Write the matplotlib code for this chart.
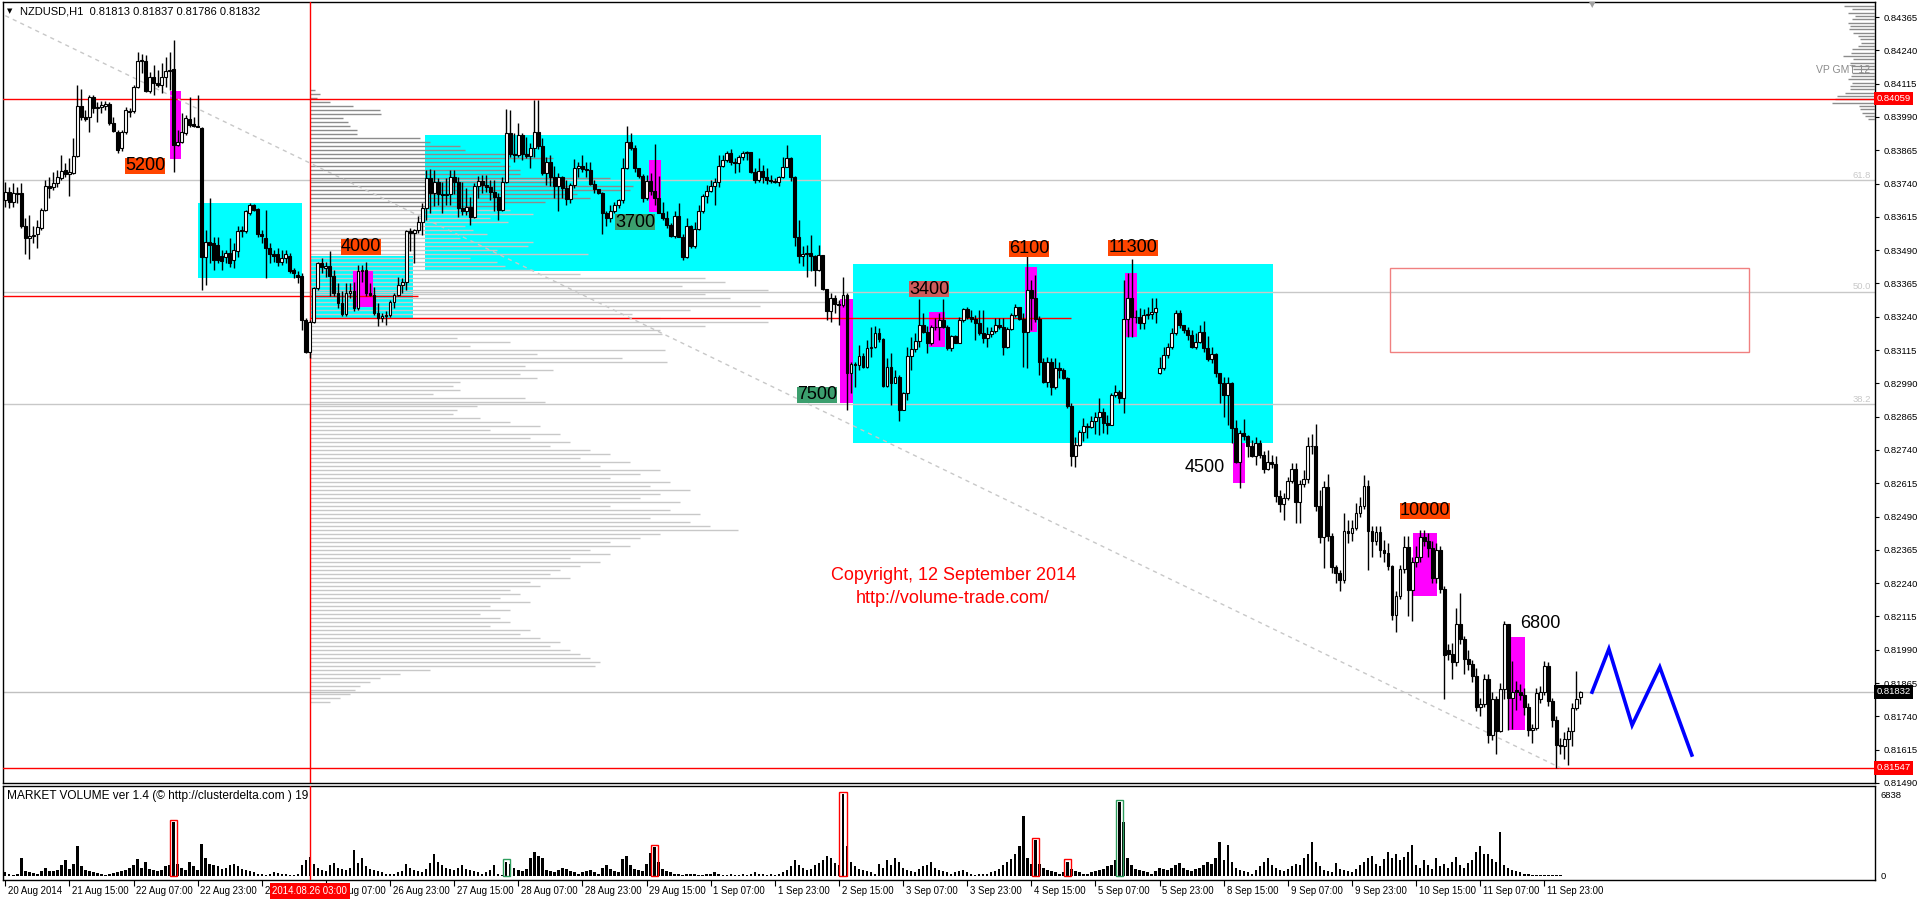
import matplotlib
matplotlib.use('Agg')
import matplotlib.pyplot as plt
import matplotlib.transforms as mtransforms
from matplotlib.patches import Rectangle
import numpy as np

plt.rcParams['font.family'] = ['Liberation Sans', 'DejaVu Sans']

# ---------------- data (NZDUSD H1, one value per bar) ----------------
opens = [
    0.83678, 0.83710, 0.83672, 0.83706, 0.83704, 0.83579, 0.83535, 0.83544, 0.83551, 0.83572,
    0.83641, 0.83731, 0.83726, 0.83741, 0.83760, 0.83791, 0.83776, 0.83778, 0.83843, 0.84031,
    0.83989, 0.83989, 0.84064, 0.84022, 0.84026, 0.84031, 0.84039, 0.83966, 0.83935, 0.83872,
    0.83935, 0.84010, 0.84012, 0.84101, 0.84201, 0.84201, 0.84088, 0.84141, 0.84119, 0.84110,
    0.84138, 0.84163, 0.84168, 0.83885, 0.83897, 0.83929, 0.83981, 0.83962, 0.83957, 0.83947,
    0.83466, 0.83522, 0.83516, 0.83510, 0.83469, 0.83466, 0.83478, 0.83453, 0.83485, 0.83566,
    0.83560, 0.83631, 0.83660, 0.83644, 0.83551, 0.83535, 0.83497, 0.83475, 0.83476, 0.83447,
    0.83460, 0.83468, 0.83416, 0.83397, 0.83393, 0.83229, 0.83106, 0.83222, 0.83347, 0.83441,
    0.83422, 0.83430, 0.83394, 0.83328, 0.83291, 0.83251, 0.83328, 0.83335, 0.83272, 0.83410,
    0.83416, 0.83328, 0.83322, 0.83254, 0.83235, 0.83241, 0.83246, 0.83297, 0.83322, 0.83360,
    0.83369, 0.83560, 0.83554, 0.83566, 0.83597, 0.83647, 0.83760, 0.83704, 0.83745, 0.83701,
    0.83697, 0.83701, 0.83763, 0.83745, 0.83647, 0.83635, 0.83653, 0.83613, 0.83731, 0.83751,
    0.83735, 0.83728, 0.83710, 0.83691, 0.83641, 0.83744, 0.83931, 0.83851, 0.83847, 0.83922,
    0.83851, 0.83843, 0.83872, 0.83935, 0.83881, 0.83779, 0.83822, 0.83763, 0.83729, 0.83763,
    0.83722, 0.83681, 0.83735, 0.83797, 0.83806, 0.83794, 0.83791, 0.83738, 0.83719, 0.83706,
    0.83631, 0.83610, 0.83638, 0.83660, 0.83679, 0.83797, 0.83897, 0.83872, 0.83797, 0.83769,
    0.83685, 0.83751, 0.83713, 0.83685, 0.83631, 0.83610, 0.83585, 0.83544, 0.83619, 0.83541,
    0.83466, 0.83579, 0.83504, 0.83569, 0.83635, 0.83694, 0.83713, 0.83731, 0.83747, 0.83806,
    0.83829, 0.83856, 0.83822, 0.83818, 0.83838, 0.83853, 0.83857, 0.83785, 0.83754, 0.83788,
    0.83766, 0.83754, 0.83751, 0.83747, 0.83766, 0.83801, 0.83835, 0.83766, 0.83541, 0.83469,
    0.83476, 0.83480, 0.83469, 0.83416, 0.83472, 0.83344, 0.83263, 0.83310, 0.83288, 0.83285,
    0.83321, 0.83030, 0.83063, 0.83059, 0.83093, 0.83050, 0.83121, 0.83128, 0.83178, 0.83155,
    0.82980, 0.83053, 0.82993, 0.83015, 0.82890, 0.82955, 0.83093, 0.83118, 0.83149, 0.83209,
    0.83184, 0.83140, 0.83200, 0.83203, 0.83228, 0.83203, 0.83121, 0.83168, 0.83143, 0.83228,
    0.83268, 0.83238, 0.83230, 0.83215, 0.83180, 0.83159, 0.83175, 0.83188, 0.83209, 0.83203,
    0.83128, 0.83193, 0.83246, 0.83275, 0.83230, 0.83184, 0.83340, 0.83309, 0.83230, 0.83071,
    0.82996, 0.83071, 0.82975, 0.83046, 0.83040, 0.83009, 0.82905, 0.82718, 0.82759, 0.82809,
    0.82830, 0.82826, 0.82850, 0.82862, 0.82884, 0.82840, 0.82835, 0.82946, 0.82959, 0.82934,
    0.83230, 0.83309, 0.83240, 0.83238, 0.83215, 0.83246, 0.83250, 0.83259, 0.83028, 0.83046,
    0.83096, 0.83125, 0.83180, 0.83253, 0.83209, 0.83190, 0.83171, 0.83128, 0.83146, 0.83184,
    0.83121, 0.83080, 0.83100, 0.83028, 0.82993, 0.82946, 0.82990, 0.82821, 0.82693, 0.82803,
    0.82793, 0.82753, 0.82718, 0.82765, 0.82722, 0.82668, 0.82693, 0.82688, 0.82568, 0.82538,
    0.82559, 0.82622, 0.82668, 0.82543, 0.82613, 0.82631, 0.82753, 0.82756, 0.82531, 0.82413,
    0.82600, 0.82418, 0.82300, 0.82278, 0.82253, 0.82434, 0.82428, 0.82447, 0.82503, 0.82531,
    0.82603, 0.82434, 0.82400, 0.82431, 0.82365, 0.82353, 0.82303, 0.82122, 0.82190, 0.82293,
    0.82375, 0.82213, 0.82318, 0.82338, 0.82415, 0.82397, 0.82372, 0.82259, 0.82363, 0.82218,
    0.81990, 0.81975, 0.81943, 0.82088, 0.82030, 0.81955, 0.81935, 0.81893, 0.81775, 0.81788,
    0.81880, 0.81672, 0.81805, 0.81685, 0.81843, 0.82088, 0.81810, 0.81838, 0.81830, 0.81822,
    0.81775, 0.81690, 0.81697, 0.81805, 0.81830, 0.81928, 0.81797, 0.81728, 0.81634, 0.81630,
    0.81655, 0.81684, 0.81772, 0.81813,
]
highs = [
    0.83747, 0.83728, 0.83741, 0.83728, 0.83741, 0.83610, 0.83622, 0.83579, 0.83604, 0.83647,
    0.83754, 0.83766, 0.83785, 0.83791, 0.83847, 0.83816, 0.83835, 0.83910, 0.84110, 0.84094,
    0.84016, 0.84072, 0.84072, 0.84047, 0.84051, 0.84051, 0.84047, 0.83989, 0.83941, 0.83941,
    0.84026, 0.84022, 0.84110, 0.84235, 0.84228, 0.84222, 0.84160, 0.84185, 0.84166, 0.84191,
    0.84216, 0.84235, 0.84279, 0.83941, 0.84004, 0.83997, 0.84066, 0.83991, 0.84072, 0.83954,
    0.83566, 0.83685, 0.83541, 0.83541, 0.83491, 0.83491, 0.83535, 0.83516, 0.83579, 0.83579,
    0.83641, 0.83666, 0.83664, 0.83647, 0.83566, 0.83641, 0.83516, 0.83491, 0.83497, 0.83491,
    0.83491, 0.83478, 0.83422, 0.83410, 0.83403, 0.83235, 0.83229, 0.83353, 0.83447, 0.83460,
    0.83444, 0.83488, 0.83416, 0.83366, 0.83335, 0.83366, 0.83366, 0.83372, 0.83435, 0.83435,
    0.83447, 0.83366, 0.83353, 0.83291, 0.83254, 0.83260, 0.83303, 0.83328, 0.83391, 0.83385,
    0.83566, 0.83572, 0.83569, 0.83619, 0.83666, 0.83791, 0.83794, 0.83791, 0.83760, 0.83747,
    0.83760, 0.83791, 0.83791, 0.83766, 0.83747, 0.83722, 0.83691, 0.83741, 0.83769, 0.83772,
    0.83772, 0.83754, 0.83754, 0.83704, 0.83766, 0.84019, 0.84016, 0.83928, 0.83966, 0.83928,
    0.83916, 0.83891, 0.84054, 0.84054, 0.83910, 0.83841, 0.83847, 0.83804, 0.83779, 0.83769,
    0.83754, 0.83741, 0.83831, 0.83822, 0.83847, 0.83822, 0.83822, 0.83754, 0.83719, 0.83710,
    0.83635, 0.83660, 0.83672, 0.83681, 0.83835, 0.83956, 0.83928, 0.83885, 0.83797, 0.83776,
    0.83772, 0.83779, 0.83888, 0.83769, 0.83672, 0.83635, 0.83591, 0.83635, 0.83666, 0.83550,
    0.83610, 0.83585, 0.83597, 0.83660, 0.83701, 0.83735, 0.83754, 0.83760, 0.83847, 0.83847,
    0.83862, 0.83869, 0.83835, 0.83847, 0.83863, 0.83862, 0.83860, 0.83797, 0.83835, 0.83810,
    0.83797, 0.83772, 0.83760, 0.83769, 0.83841, 0.83885, 0.83841, 0.83769, 0.83603, 0.83504,
    0.83510, 0.83547, 0.83472, 0.83510, 0.83472, 0.83344, 0.83329, 0.83322, 0.83303, 0.83390,
    0.83330, 0.83071, 0.83071, 0.83134, 0.83103, 0.83153, 0.83203, 0.83205, 0.83196, 0.83159,
    0.83084, 0.83103, 0.83040, 0.83021, 0.82959, 0.83128, 0.83165, 0.83178, 0.83305, 0.83253,
    0.83205, 0.83209, 0.83234, 0.83253, 0.83305, 0.83209, 0.83171, 0.83171, 0.83240, 0.83271,
    0.83275, 0.83265, 0.83246, 0.83265, 0.83265, 0.83203, 0.83203, 0.83234, 0.83234, 0.83234,
    0.83203, 0.83253, 0.83288, 0.83278, 0.83253, 0.83503, 0.83378, 0.83396, 0.83243, 0.83084,
    0.83090, 0.83084, 0.83084, 0.83071, 0.83046, 0.83015, 0.82915, 0.82790, 0.82815, 0.82859,
    0.82843, 0.82868, 0.82884, 0.82934, 0.82896, 0.82871, 0.82953, 0.82984, 0.82965, 0.83378,
    0.83403, 0.83455, 0.83265, 0.83271, 0.83268, 0.83275, 0.83309, 0.83309, 0.83090, 0.83128,
    0.83140, 0.83196, 0.83265, 0.83265, 0.83209, 0.83203, 0.83190, 0.83178, 0.83209, 0.83225,
    0.83168, 0.83128, 0.83103, 0.83030, 0.83015, 0.83015, 0.82996, 0.82853, 0.82815, 0.82855,
    0.82796, 0.82778, 0.82790, 0.82778, 0.82735, 0.82740, 0.82721, 0.82718, 0.82590, 0.82578,
    0.82640, 0.82690, 0.82690, 0.82628, 0.82665, 0.82790, 0.82800, 0.82838, 0.82590, 0.82625,
    0.82650, 0.82430, 0.82310, 0.82290, 0.82503, 0.82478, 0.82478, 0.82540, 0.82565, 0.82647,
    0.82628, 0.82453, 0.82453, 0.82453, 0.82403, 0.82390, 0.82310, 0.82210, 0.82310, 0.82418,
    0.82418, 0.82340, 0.82378, 0.82440, 0.82440, 0.82428, 0.82400, 0.82390, 0.82378, 0.82230,
    0.82010, 0.82015, 0.82147, 0.82203, 0.82040, 0.81990, 0.81950, 0.81920, 0.81810, 0.81900,
    0.81900, 0.81830, 0.81815, 0.81865, 0.82097, 0.82088, 0.81947, 0.81872, 0.81860, 0.81845,
    0.81790, 0.81712, 0.81845, 0.81853, 0.81947, 0.81943, 0.81810, 0.81740, 0.81660, 0.81680,
    0.81700, 0.81790, 0.81909, 0.81837,
]
lows = [
    0.83653, 0.83647, 0.83653, 0.83666, 0.83572, 0.83476, 0.83456, 0.83516, 0.83497, 0.83566,
    0.83635, 0.83685, 0.83716, 0.83728, 0.83753, 0.83766, 0.83693, 0.83776, 0.83841, 0.83979,
    0.83976, 0.83935, 0.84004, 0.83972, 0.84004, 0.84016, 0.83960, 0.83935, 0.83854, 0.83863,
    0.83926, 0.83989, 0.84004, 0.84097, 0.84154, 0.84085, 0.84079, 0.84072, 0.84104, 0.84079,
    0.84104, 0.84091, 0.83785, 0.83879, 0.83891, 0.83922, 0.83954, 0.83951, 0.83951, 0.83341,
    0.83360, 0.83441, 0.83416, 0.83441, 0.83416, 0.83441, 0.83428, 0.83422, 0.83466, 0.83541,
    0.83554, 0.83622, 0.83635, 0.83541, 0.83516, 0.83385, 0.83441, 0.83445, 0.83429, 0.83435,
    0.83441, 0.83403, 0.83385, 0.83366, 0.83191, 0.83104, 0.83085, 0.83216, 0.83341, 0.83403,
    0.83391, 0.83316, 0.83316, 0.83272, 0.83243, 0.83241, 0.83310, 0.83260, 0.83266, 0.83372,
    0.83316, 0.83316, 0.83247, 0.83204, 0.83222, 0.83210, 0.83238, 0.83272, 0.83316, 0.83328,
    0.83341, 0.83485, 0.83441, 0.83554, 0.83547, 0.83603, 0.83629, 0.83654, 0.83660, 0.83629,
    0.83660, 0.83660, 0.83700, 0.83616, 0.83622, 0.83620, 0.83585, 0.83610, 0.83685, 0.83704,
    0.83710, 0.83679, 0.83635, 0.83604, 0.83635, 0.83741, 0.83841, 0.83822, 0.83841, 0.83829,
    0.83835, 0.83797, 0.83841, 0.83869, 0.83772, 0.83735, 0.83729, 0.83685, 0.83638, 0.83685,
    0.83660, 0.83666, 0.83722, 0.83763, 0.83785, 0.83763, 0.83735, 0.83704, 0.83701, 0.83551,
    0.83579, 0.83597, 0.83631, 0.83647, 0.83666, 0.83793, 0.83866, 0.83785, 0.83760, 0.83672,
    0.83679, 0.83697, 0.83660, 0.83629, 0.83603, 0.83572, 0.83541, 0.83535, 0.83538, 0.83454,
    0.83460, 0.83497, 0.83497, 0.83566, 0.83630, 0.83666, 0.83710, 0.83660, 0.83728, 0.83803,
    0.83822, 0.83810, 0.83781, 0.83785, 0.83829, 0.83829, 0.83779, 0.83741, 0.83747, 0.83741,
    0.83738, 0.83741, 0.83741, 0.83729, 0.83760, 0.83801, 0.83751, 0.83504, 0.83441, 0.83429,
    0.83391, 0.83410, 0.83354, 0.83410, 0.83341, 0.83229, 0.83222, 0.83254, 0.83210, 0.83277,
    0.82890, 0.82953, 0.82978, 0.83040, 0.83046, 0.83046, 0.83090, 0.83121, 0.83146, 0.82978,
    0.82978, 0.82909, 0.82990, 0.82850, 0.82890, 0.82928, 0.83040, 0.83109, 0.83128, 0.83178,
    0.83105, 0.83134, 0.83190, 0.83153, 0.83196, 0.83115, 0.83112, 0.83140, 0.83140, 0.83221,
    0.83230, 0.83221, 0.83153, 0.83171, 0.83140, 0.83125, 0.83165, 0.83178, 0.83193, 0.83096,
    0.83121, 0.83190, 0.83240, 0.83228, 0.83053, 0.83046, 0.83190, 0.83221, 0.83021, 0.82990,
    0.82978, 0.82946, 0.82968, 0.83009, 0.83005, 0.82896, 0.82680, 0.82675, 0.82753, 0.82775,
    0.82784, 0.82821, 0.82800, 0.82796, 0.82803, 0.82800, 0.82834, 0.82940, 0.82918, 0.82880,
    0.83163, 0.83165, 0.83215, 0.83193, 0.83193, 0.83230, 0.83230, 0.83215, 0.83025, 0.83040,
    0.83084, 0.83118, 0.83171, 0.83196, 0.83178, 0.83153, 0.83121, 0.83118, 0.83140, 0.83109,
    0.83075, 0.83065, 0.83015, 0.82915, 0.82865, 0.82834, 0.82765, 0.82690, 0.82596, 0.82778,
    0.82715, 0.82713, 0.82684, 0.82709, 0.82653, 0.82665, 0.82672, 0.82546, 0.82509, 0.82478,
    0.82553, 0.82615, 0.82465, 0.82465, 0.82600, 0.82615, 0.82725, 0.82512, 0.82390, 0.82297,
    0.82400, 0.82280, 0.82240, 0.82209, 0.82240, 0.82390, 0.82400, 0.82440, 0.82490, 0.82520,
    0.82290, 0.82340, 0.82385, 0.82340, 0.82320, 0.82290, 0.82103, 0.82055, 0.82180, 0.82280,
    0.82115, 0.82097, 0.82300, 0.82320, 0.82380, 0.82340, 0.82240, 0.82240, 0.82203, 0.81805,
    0.81950, 0.81880, 0.81930, 0.82010, 0.81900, 0.81915, 0.81870, 0.81760, 0.81740, 0.81775,
    0.81640, 0.81650, 0.81597, 0.81680, 0.81805, 0.81690, 0.81693, 0.81765, 0.81800, 0.81747,
    0.81665, 0.81640, 0.81690, 0.81790, 0.81820, 0.81780, 0.81700, 0.81547, 0.81600, 0.81580,
    0.81559, 0.81630, 0.81765, 0.81786,
]
closes = [
    0.83710, 0.83672, 0.83706, 0.83701, 0.83579, 0.83535, 0.83544, 0.83547, 0.83576, 0.83641,
    0.83731, 0.83722, 0.83741, 0.83763, 0.83788, 0.83776, 0.83785, 0.83843, 0.84031, 0.83989,
    0.83981, 0.84066, 0.84022, 0.84029, 0.84035, 0.84039, 0.83966, 0.83939, 0.83866, 0.83935,
    0.84016, 0.84014, 0.84101, 0.84201, 0.84204, 0.84088, 0.84141, 0.84119, 0.84110, 0.84138,
    0.84163, 0.84166, 0.83885, 0.83894, 0.83935, 0.83985, 0.83960, 0.83957, 0.83954, 0.83466,
    0.83522, 0.83510, 0.83453, 0.83453, 0.83451, 0.83478, 0.83441, 0.83491, 0.83560, 0.83560,
    0.83635, 0.83660, 0.83639, 0.83551, 0.83544, 0.83497, 0.83475, 0.83468, 0.83447, 0.83460,
    0.83476, 0.83410, 0.83404, 0.83391, 0.83229, 0.83106, 0.83219, 0.83347, 0.83441, 0.83425,
    0.83430, 0.83394, 0.83328, 0.83291, 0.83251, 0.83328, 0.83335, 0.83272, 0.83410, 0.83416,
    0.83328, 0.83322, 0.83254, 0.83235, 0.83241, 0.83246, 0.83297, 0.83322, 0.83360, 0.83369,
    0.83560, 0.83554, 0.83566, 0.83597, 0.83647, 0.83760, 0.83704, 0.83745, 0.83701, 0.83697,
    0.83701, 0.83763, 0.83745, 0.83647, 0.83635, 0.83653, 0.83613, 0.83731, 0.83751, 0.83735,
    0.83728, 0.83710, 0.83691, 0.83641, 0.83744, 0.83931, 0.83851, 0.83847, 0.83922, 0.83851,
    0.83843, 0.83872, 0.83935, 0.83881, 0.83779, 0.83822, 0.83763, 0.83729, 0.83763, 0.83722,
    0.83681, 0.83735, 0.83797, 0.83806, 0.83794, 0.83791, 0.83738, 0.83719, 0.83706, 0.83631,
    0.83610, 0.83638, 0.83660, 0.83679, 0.83797, 0.83897, 0.83872, 0.83797, 0.83769, 0.83685,
    0.83751, 0.83713, 0.83685, 0.83631, 0.83610, 0.83585, 0.83544, 0.83619, 0.83541, 0.83466,
    0.83579, 0.83504, 0.83569, 0.83635, 0.83694, 0.83713, 0.83731, 0.83747, 0.83806, 0.83829,
    0.83856, 0.83822, 0.83818, 0.83838, 0.83853, 0.83857, 0.83785, 0.83754, 0.83788, 0.83766,
    0.83754, 0.83751, 0.83747, 0.83766, 0.83801, 0.83835, 0.83766, 0.83541, 0.83469, 0.83476,
    0.83480, 0.83469, 0.83416, 0.83472, 0.83344, 0.83263, 0.83310, 0.83288, 0.83285, 0.83321,
    0.83030, 0.83063, 0.83059, 0.83093, 0.83050, 0.83121, 0.83128, 0.83178, 0.83155, 0.82980,
    0.83053, 0.82993, 0.83015, 0.82890, 0.82955, 0.83093, 0.83118, 0.83149, 0.83209, 0.83184,
    0.83140, 0.83200, 0.83203, 0.83228, 0.83203, 0.83121, 0.83168, 0.83143, 0.83228, 0.83268,
    0.83238, 0.83230, 0.83215, 0.83180, 0.83159, 0.83175, 0.83188, 0.83209, 0.83203, 0.83128,
    0.83193, 0.83246, 0.83275, 0.83230, 0.83184, 0.83340, 0.83309, 0.83230, 0.83071, 0.82996,
    0.83071, 0.82975, 0.83046, 0.83040, 0.83009, 0.82905, 0.82718, 0.82759, 0.82809, 0.82830,
    0.82826, 0.82850, 0.82862, 0.82884, 0.82840, 0.82835, 0.82946, 0.82959, 0.82934, 0.83230,
    0.83309, 0.83240, 0.83238, 0.83215, 0.83246, 0.83250, 0.83259, 0.83271, 0.83046, 0.83096,
    0.83125, 0.83180, 0.83253, 0.83209, 0.83190, 0.83171, 0.83128, 0.83146, 0.83184, 0.83121,
    0.83080, 0.83100, 0.83028, 0.82993, 0.82946, 0.82990, 0.82821, 0.82693, 0.82803, 0.82793,
    0.82753, 0.82718, 0.82765, 0.82722, 0.82668, 0.82693, 0.82688, 0.82568, 0.82538, 0.82559,
    0.82622, 0.82668, 0.82543, 0.82613, 0.82631, 0.82753, 0.82756, 0.82531, 0.82413, 0.82600,
    0.82418, 0.82300, 0.82278, 0.82253, 0.82434, 0.82428, 0.82447, 0.82503, 0.82531, 0.82603,
    0.82434, 0.82400, 0.82431, 0.82365, 0.82353, 0.82303, 0.82122, 0.82190, 0.82293, 0.82375,
    0.82213, 0.82318, 0.82338, 0.82415, 0.82397, 0.82372, 0.82259, 0.82363, 0.82218, 0.81972,
    0.81975, 0.81943, 0.82088, 0.82030, 0.81955, 0.81935, 0.81893, 0.81775, 0.81788, 0.81880,
    0.81672, 0.81805, 0.81685, 0.81843, 0.82088, 0.81810, 0.81830, 0.81830, 0.81822, 0.81775,
    0.81690, 0.81697, 0.81828, 0.81830, 0.81928, 0.81797, 0.81728, 0.81634, 0.81630, 0.81655,
    0.81684, 0.81772, 0.81805, 0.81832,
]
volumes = [
    300, 150, 100, 200, 1500, 400, 300, 250, 200, 400, 700, 450, 400, 500, 900, 1300,
    600, 1000, 2500, 800, 500, 400, 300, 250, 150, 100, 200, 250, 300, 400, 500, 700,
    900, 1400, 700, 1200, 600, 500, 400, 500, 800, 900, 4500, 1000, 700, 500, 1200, 800,
    500, 2700, 1500, 1000, 900, 800, 600, 700, 900, 1000, 800, 600, 500, 400, 300, 200,
    150, 100, 200, 300, 250, 200, 150, 100, 80, 200, 900, 1300, 1600, 1000, 700, 500,
    400, 900, 1100, 700, 600, 500, 700, 2200, 1100, 1500, 800, 600, 500, 400, 300, 200,
    150, 200, 300, 400, 1000, 700, 500, 400, 300, 600, 1100, 1800, 1200, 900, 700, 600,
    500, 700, 900, 600, 500, 400, 300, 200, 300, 500, 900, 200, 100, 1200, 1000, 700,
    500, 400, 600, 1500, 2000, 1700, 1500, 500, 400, 300, 500, 700, 600, 400, 300, 200,
    300, 400, 500, 300, 200, 700, 900, 600, 400, 300, 1400, 1700, 900, 600, 500, 400,
    1000, 1900, 2400, 1200, 600, 400, 300, 200, 150, 100, 150, 200, 150, 100, 100, 150,
    200, 300, 200, 100, 100, 150, 100, 100, 150, 100, 200, 300, 200, 150, 100, 200,
    100, 200, 300, 500, 800, 1300, 900, 700, 500, 600, 900, 1100, 1300, 1700, 1500, 1100,
    900, 6838, 2500, 1200, 800, 600, 500, 400, 300, 200, 1000, 700, 1300, 900, 1500, 1200,
    700, 500, 400, 300, 600, 800, 900, 1200, 700, 500, 400, 300, 200, 300, 400, 500,
    300, 200, 100, 150, 200, 150, 300, 400, 600, 900, 1200, 1400, 1800, 2500, 5000, 1500,
    1000, 3000, 1000, 700, 500, 400, 300, 200, 300, 1200, 600, 400, 300, 200, 150, 300,
    400, 500, 600, 800, 900, 1300, 6200, 4500, 1500, 900, 600, 500, 400, 300, 200, 400,
    700, 600, 500, 700, 900, 1100, 700, 500, 400, 600, 700, 900, 1200, 1000, 1500, 2800,
    1300, 2600, 1200, 700, 500, 400, 300, 200, 500, 800, 1200, 1500, 900, 700, 500, 400,
    600, 800, 1000, 900, 1500, 1800, 2800, 1200, 800, 500, 400, 300, 1100, 600, 500, 400,
    300, 600, 900, 1200, 1500, 1700, 1000, 800, 1400, 2000, 1500, 1800, 1300, 1600, 2000, 2600,
    900, 700, 1300, 900, 600, 1500, 800, 1000, 700, 1200, 1600, 900, 700, 1100, 1300, 2000,
    2500, 1800, 1800, 1400, 1200, 3700, 900, 700, 500, 400, 300, 200, 150, 100, 120, 100,
    80, 60, 50, 40, 40, 30, 30, 30, 30, 30,
]
# bars whose volume is boxed by the indicator
vol_boxes = [(42, 'red'), (125, '#2e9e5e'), (162, 'red'), (209, 'red'),
             (257, 'red'), (265, 'red'), (278, '#2e9e5e')]

time_labels = ['20 Aug 2014', '21 Aug 15:00', '22 Aug 07:00', '22 Aug 23:00', '25 Aug 15:00',
               '26 Aug 07:00', '26 Aug 23:00', '27 Aug 15:00', '28 Aug 07:00', '28 Aug 23:00',
               '29 Aug 15:00', '1 Sep 07:00', '1 Sep 23:00', '2 Sep 15:00', '3 Sep 07:00',
               '3 Sep 23:00', '4 Sep 15:00', '5 Sep 07:00', '5 Sep 23:00', '8 Sep 15:00',
               '9 Sep 07:00', '9 Sep 23:00', '10 Sep 15:00', '11 Sep 07:00', '11 Sep 23:00']
price_ticks = [0.84365, 0.84240, 0.84115, 0.83990, 0.83865, 0.83740, 0.83615, 0.83490,
               0.83365, 0.83240, 0.83115, 0.82990, 0.82865, 0.82740, 0.82615, 0.82490,
               0.82365, 0.82240, 0.82115, 0.81990, 0.81865, 0.81740, 0.81615, 0.81490]

# volume profile anchored at the red vertical line (step 0.00015 from 0.84090 down)
profile_top = 0.84090
profile_step = 0.00015
profile_volume = [
    5, 10, 7, 20, 43, 70, 71, 33, 38, 40,
    47, 47, 110, 120, 150, 155, 220, 243, 190, 200,
    210, 210, 300, 250, 323, 320, 267, 280, 235, 188,
    200, 223, 180, 198, 155, 163, 177, 150, 223, 218,
    187, 278, 160, 187, 195, 223, 270, 395, 415, 372,
    458, 395, 420, 530, 450, 380, 322, 350, 458, 395,
    350, 352, 147, 200, 160, 355, 227, 312, 357, 215,
    243, 210, 227, 150, 143, 150, 123, 215, 235, 167,
    147, 143, 170, 200, 230, 180, 250, 220, 260, 240,
    280, 300, 270, 320, 290, 350, 330, 300, 360, 340,
    380, 350, 330, 370, 300, 360, 390, 340, 380, 400,
    428, 350, 330, 300, 320, 280, 300, 260, 290, 270,
    250, 240, 260, 220, 230, 200, 210, 190, 220, 180,
    200, 170, 190, 200, 180, 220, 210, 230, 250, 240,
    260, 270, 280, 290, 285, 120, 90, 70, 60, 50,
    45, 40, 30, 20,
]
# small session profile at the top right (step 0.000125 from 0.84406 down)
vp2_top = 0.84406
vp2_step = 0.000125
vp2_volume = [31, 23, 27, 20, 23, 27, 25, 26, 22, 17, 15, 14, 17, 23, 24, 32, 22, 25,
              24, 22, 23, 24, 27, 23, 25, 25, 30, 38, 40, 43, 16, 15, 13, 10, 7]

# zones (bar from, bar to, price low, price high)
cyan_zones = [(48.0, 74.0, 0.83385, 0.83667), (76.1, 101.7, 0.83235, 0.83468),
              (104.7, 203.5, 0.83411, 0.83922), (211.4, 316.3, 0.82766, 0.83437)]
magenta_zones = [(41.0, 43.8, 0.83832, 0.84087), (86.8, 91.7, 0.83276, 0.83411),
                 (160.6, 163.6, 0.83633, 0.83828), (208.3, 211.5, 0.82916, 0.83306),
                 (230.5, 234.5, 0.83126, 0.83258), (254.4, 257.4, 0.83183, 0.83427),
                 (279.4, 282.4, 0.83164, 0.83404), (306.3, 309.3, 0.82616, 0.82766),
                 (351.3, 357.2, 0.82192, 0.82428), (375.2, 379.2, 0.81689, 0.82038)]
# volume notes: text, bar, price, box colour (None = plain text)
notes = [('5200', 34.9, 0.83806, '#ff4500'), ('4000', 88.8, 0.83502, '#ff4500'),
         ('3700', 157.1, 0.83594, '#3c9f6e'), ('7500', 202.5, 0.82948, '#3c9f6e'),
         ('3400', 230.5, 0.83344, '#cd5c5c'), ('6100', 255.4, 0.83496, '#ff4500'),
         ('11300', 281.4, 0.83498, '#ff4500'), ('4500', 299.3, 0.82674, None),
         ('10000', 354.2, 0.82511, '#ff4500'), ('6800', 382.9, 0.82088, None)]
fib_levels = [(0.83753, '61.8'), (0.83333, '50.0'), (0.82912, '38.2')]
zig_x = [395.9, 400.1, 405.9, 412.8, 420.8]
zig_p = [0.81831, 0.81993, 0.81707, 0.81925, 0.81595]

# ---------------- figure ----------------
W, H = 1920, 901
fig = plt.figure(figsize=(W / 100, H / 100), dpi=100)


def px_rect(x0, y0, x1, y1):
    return [x0 / W, 1 - y1 / H, (x1 - x0) / W, (y1 - y0) / H]


ax = fig.add_axes(px_rect(3, 2, 1875, 783))
axv = fig.add_axes(px_rect(3, 786, 1875, 880))
XMIN, XMAX = -0.57, 466.5
for a in (ax, axv):
    a.set_xlim(XMIN, XMAX)
    for s in a.spines.values():
        s.set_color('black')
        s.set_linewidth(1)
ax.set_ylim(0.81490, 0.844213)

n = len(closes)
x = np.arange(n)
o = np.array(opens)
c = np.array(closes)
hi = np.array(highs)
lo = np.array(lows)

# background zones
for x0, x1, p0, p1 in cyan_zones:
    ax.add_patch(Rectangle((x0, p0), x1 - x0, p1 - p0, facecolor='#00ffff',
                           edgecolor='none', zorder=1))
for p, lab in fib_levels:
    ax.axhline(p, color='#c8c8c8', lw=1, zorder=2)
    ax.text(465.5, p + 0.00002, lab, color='#c8c8c8', fontsize=6.8,
            ha='right', va='bottom', zorder=2)

# volume profile
for k, v in enumerate(profile_volume):
    p = profile_top - k * profile_step
    col = '#8c8c8c' if p > 0.8365 else '#c8c8c8'
    ax.hlines(p, 76, 76 + v / 4.008, color=col, lw=1, zorder=3)
for k, v in enumerate(vp2_volume):
    p = vp2_top - k * vp2_step
    ax.hlines(p, XMAX - v / 4.008, XMAX, color='#8c8c8c', lw=1, zorder=3)
ax.text(465.3, 0.84166, 'VP GMT 12', color='#8c8c8c', fontsize=7.5,
        ha='right', va='center', zorder=4)

for x0, x1, p0, p1 in magenta_zones:
    ax.add_patch(Rectangle((x0, p0), x1 - x0, p1 - p0, facecolor='#ff00ff',
                           edgecolor='none', zorder=4))

# lines
ax.axhline(0.84059, color='red', lw=1, zorder=4)
ax.axhline(0.81547, color='red', lw=1, zorder=4)
ax.axhline(0.81832, color='#c0c0c0', lw=1, zorder=2)
ax.hlines(0.83318, XMIN, 103, color='red', lw=1, zorder=4)
ax.hlines(0.83235, 76, 266, color='red', lw=1, zorder=4)
ax.axvline(76, color='red', lw=1, zorder=4)
axv.axvline(76, color='red', lw=1, zorder=4)
ax.plot([0, 388], [0.84370, 0.81547], color='#c8c8c8', lw=1,
        ls=(0, (3, 3)), zorder=4)
ax.add_patch(Rectangle((345.5, 0.83107), 89.5, 0.00316, fill=False,
                       edgecolor='#f08080', lw=1, zorder=4))

# candles
up = c >= o
ax.vlines(x, lo, hi, color='black', lw=1, zorder=6)
body = np.maximum(np.abs(c - o), 0.000015)
ax.bar(x, body, bottom=np.minimum(o, c), width=0.72,
       color=np.where(up, 'white', 'black'), edgecolor='black', lw=0.8, zorder=7)

# blue forecast
ax.plot(zig_x, zig_p, color='#0000ff', lw=2.6, zorder=8, solid_joinstyle='miter')

# notes
for txt, xi, p, col in notes:
    if col is not None:
        wbar = 2.5 * len(txt)
        ax.add_patch(Rectangle((xi - wbar / 2, p - 0.0003), wbar, 0.0006,
                               facecolor=col, edgecolor='none', zorder=9))
    ax.text(xi, p, txt, fontsize=13, color='black', ha='center', va='center', zorder=10)

ax.text(236.5, 0.82270, 'Copyright, 12 September 2014', color='red', fontsize=13,
        ha='center', va='center', zorder=10)
ax.text(236.5, 0.82184, 'http://volume-trade.com/', color='red', fontsize=13,
        ha='center', va='center', zorder=10)

# price axis
ax.yaxis.tick_right()
ax.set_yticks(price_ticks)
ax.set_yticklabels(['%.5f' % p for p in price_ticks])
ax.tick_params(axis='y', length=3, pad=3, labelsize=6.8, colors='black')
ax.tick_params(axis='x', bottom=False, labelbottom=False)
axr = mtransforms.blended_transform_factory(ax.transAxes, ax.transData)
for p, fc in [(0.84059, 'red'), (0.81832, 'black'), (0.81547, 'red')]:
    ax.text(1.0007, p, '%.5f' % p, transform=axr, fontsize=6.8, color='white',
            ha='left', va='center', zorder=11, clip_on=False,
            bbox=dict(boxstyle='square,pad=0.25', facecolor=fc, edgecolor='none'))

fig.text(10 / W, 1 - 11 / H, '\u25bc', fontsize=5, color='black',
         family='DejaVu Sans', ha='center', va='center')
fig.text(20 / W, 1 - 11 / H, 'NZDUSD,H1  0.81813 0.81837 0.81786 0.81832',
         fontsize=8, ha='left', va='center')
fig.text(1592 / W, 1 - 5 / H, '\u25bc', fontsize=6, color='#a0a0a0',
         family='DejaVu Sans', ha='center', va='center')

# volume panel
axv.bar(x, volumes, width=0.6, color='black', zorder=3)
for bi, col in vol_boxes:
    axv.add_patch(Rectangle((bi - 0.9, 0), 1.8, volumes[bi] + 180, fill=False,
                            edgecolor=col, lw=1, zorder=4))
axv.set_ylim(-338, 7513)
axv.yaxis.tick_right()
axv.set_yticks([6838, 0])
axv.set_yticklabels(['6838', '0'])
axv.tick_params(axis='y', length=0, pad=4, labelsize=6.8)
axv.text(0.002, 0.955, 'MARKET VOLUME ver 1.4 (\u00a9 http://clusterdelta.com ) 19',
         transform=axv.transAxes, fontsize=8.6, ha='left', va='top')

tick_pos = [16 * k for k in range(len(time_labels))]
axv.set_xticks(tick_pos)
axv.tick_params(axis='x', length=4, direction='out', labelbottom=False)
tb = mtransforms.blended_transform_factory(axv.transData, fig.transFigure)
for pos, lab in zip(tick_pos, time_labels):
    axv.text(pos + 0.7, 1 - 891 / H, lab, transform=tb, fontsize=6.9,
             ha='left', va='center', clip_on=False)
axv.text(76, 1 - 891 / H, '2014.08.26 03:00', transform=tb, fontsize=6.9,
         color='white', ha='center', va='center', clip_on=False, zorder=12,
         bbox=dict(boxstyle='square,pad=0.3', facecolor='red', edgecolor='none'))

fig.savefig('out.png', dpi=100, facecolor='white')
